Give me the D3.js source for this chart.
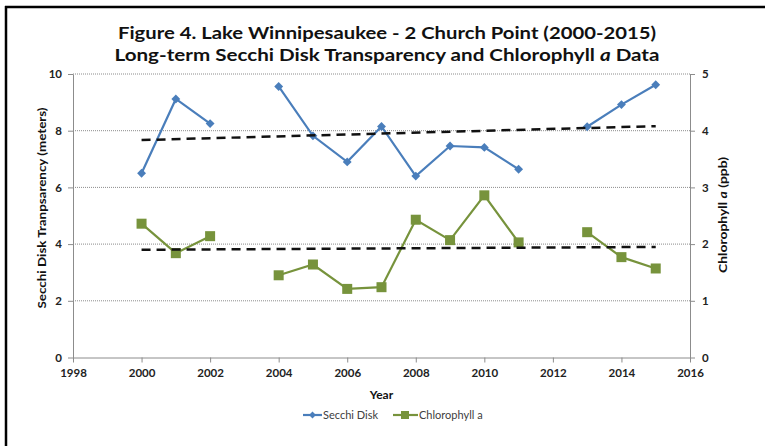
<!DOCTYPE html>
<html><head><meta charset="utf-8">
<script src="https://cdn.jsdelivr.net/npm/d3@7"></script>
<style>
body{margin:0;background:#fff;}
svg{display:block;}
</style></head>
<body>
<svg id="c" width="765" height="446"></svg>
<script>
// ---- data ----
const secchiYears = [2000, 2001, 2002, 2004, 2005, 2006, 2007, 2008, 2009, 2010, 2011, 2013, 2014, 2015];
const secchiValues = [6.5, 9.12, 8.25, 9.56, 7.82, 6.9, 8.15, 6.4, 7.46, 7.41, 6.64, 8.14, 8.92, 9.62];
const chlYears = [2000, 2001, 2002, 2004, 2005, 2006, 2007, 2008, 2009, 2010, 2011, 2013, 2014, 2015];
const chlValues = [2.36, 1.84, 2.14, 1.45, 1.64, 1.21, 1.24, 2.43, 2.07, 2.86, 2.03, 2.21, 1.77, 1.57];
const secchiTrendYears = [2000, 2015];
const secchiTrendValues = [7.67, 8.16];
const chlTrendYears = [2000, 2015];
const chlTrendValues = [1.90, 1.95];
const xTicks = [1998, 2000, 2002, 2004, 2006, 2008, 2010, 2012, 2014, 2016];
const leftTicks = [0, 2, 4, 6, 8, 10];
const rightTicks = [0, 1, 2, 3, 4, 5];
const titleLines = ["Figure 4. Lake Winnipesaukee - 2 Church Point (2000-2015)", "Long-term Secchi Disk Transparency and Chlorophyll "];
const legendLabels = ["Secchi Disk", "Chlorophyll a"];

// ---- layout ----
const svg = d3.select("#c");
const L = 73, R = 690, T = 74, B = 357.5;
const x = d3.scaleLinear().domain([1998, 2016]).range([L, R]);
const yL = d3.scaleLinear().domain([0, 10]).range([B, T]);
const yR = d3.scaleLinear().domain([0, 5]).range([B, T]);
const blue = "#4a7ebb", green = "#77933c";
const font = "Lato, 'Open Sans', sans-serif";

// border
svg.append("line").attr("x1", 6).attr("x2", 6).attr("y1", 6).attr("y2", 446).attr("stroke", "#000").attr("stroke-width", 2.5);
svg.append("line").attr("x1", 5).attr("x2", 765).attr("y1", 7).attr("y2", 7).attr("stroke", "#000").attr("stroke-width", 2.5);

// title
svg.append("text").attr("x", 387).attr("y", 39).attr("text-anchor", "middle")
  .attr("font-family", font).attr("font-weight", 700).attr("font-size", 17.5).attr("fill", "#111")
  .attr("textLength", 538).attr("lengthAdjust", "spacingAndGlyphs").text(titleLines[0]);
const t2 = svg.append("text").attr("x", 387).attr("y", 61).attr("text-anchor", "middle")
  .attr("font-family", font).attr("font-weight", 700).attr("font-size", 17.5).attr("fill", "#111")
  .attr("textLength", 545).attr("lengthAdjust", "spacingAndGlyphs");
t2.append("tspan").text(titleLines[1]);
t2.append("tspan").attr("font-style", "italic").text("a");
t2.append("tspan").text(" Data");

// gridlines
svg.append("g").selectAll("line").data(leftTicks.filter(d => d > 0)).join("line")
  .attr("x1", L).attr("x2", R).attr("y1", d => yL(d)).attr("y2", d => yL(d))
  .attr("stroke", "#8c8c8c").attr("stroke-width", 1).attr("stroke-dasharray", "1,1");

// axes
const axisStyle = g => {
  g.selectAll(".domain").attr("stroke", "#8c8c8c");
  g.selectAll(".tick line").attr("stroke", "#8c8c8c");
  g.selectAll(".tick text").attr("font-family", font).attr("font-weight", 700).attr("font-size", 11.5).attr("fill", "#222");
};
svg.append("g").attr("transform", `translate(0,${B})`)
  .call(d3.axisBottom(x).tickValues(xTicks).tickFormat(d3.format("d")).tickSize(5).tickSizeOuter(0).tickPadding(6))
  .call(axisStyle);
svg.append("g").attr("transform", `translate(${L},0)`)
  .call(d3.axisLeft(yL).tickValues(leftTicks).tickFormat(d3.format("d")).tickSize(5).tickSizeOuter(0).tickPadding(6))
  .call(axisStyle);
svg.append("g").attr("transform", `translate(${R},0)`)
  .call(d3.axisRight(yR).tickValues(rightTicks).tickFormat(d3.format("d")).tickSize(5).tickSizeOuter(0).tickPadding(7))
  .call(axisStyle);

// axis titles
svg.append("text").attr("x", (L + R) / 2).attr("y", 399).attr("text-anchor", "middle")
  .attr("font-family", font).attr("font-weight", 700).attr("font-size", 12).attr("fill", "#111").text("Year");
svg.append("text").attr("transform", "translate(46,208) rotate(-90)").attr("text-anchor", "middle")
  .attr("font-family", font).attr("font-weight", 700).attr("font-size", 11.5).attr("fill", "#111")
  .attr("textLength", 201).attr("lengthAdjust", "spacingAndGlyphs").text("Secchi Disk Tranpsarency (meters)");
const rt = svg.append("text").attr("transform", "translate(727,215) rotate(-90)").attr("text-anchor", "middle")
  .attr("font-family", font).attr("font-weight", 700).attr("font-size", 11.5).attr("fill", "#111")
  .attr("textLength", 116).attr("lengthAdjust", "spacingAndGlyphs");
rt.append("tspan").text("Chlorophyll ");
rt.append("tspan").attr("font-style", "italic").text("a");
rt.append("tspan").text(" (ppb)");

// series helpers: break lines at missing years
function segments(years, vals) {
  const segs = []; let cur = [];
  years.forEach((yr, i) => {
    if (i > 0 && yr - years[i - 1] > 1) { segs.push(cur); cur = []; }
    cur.push([yr, vals[i]]);
  });
  segs.push(cur);
  return segs;
}
const lineL = d3.line().x(d => x(d[0])).y(d => yL(d[1]));
const lineR = d3.line().x(d => x(d[0])).y(d => yR(d[1]));

// secchi
svg.append("g").selectAll("path").data(segments(secchiYears, secchiValues)).join("path")
  .attr("d", lineL).attr("fill", "none").attr("stroke", blue).attr("stroke-width", 2.2);
svg.append("g").selectAll("path").data(secchiYears.map((y, i) => [y, secchiValues[i]])).join("path")
  .attr("d", d3.symbol(d3.symbolDiamond2, 50)())
  .attr("transform", d => `translate(${x(d[0])},${yL(d[1])})`).attr("fill", blue);

// chlorophyll
svg.append("g").selectAll("path").data(segments(chlYears, chlValues)).join("path")
  .attr("d", lineR).attr("fill", "none").attr("stroke", green).attr("stroke-width", 2.2);
svg.append("g").selectAll("rect").data(chlYears.map((y, i) => [y, chlValues[i]])).join("rect")
  .attr("x", d => x(d[0]) - 5).attr("y", d => yR(d[1]) - 5).attr("width", 10).attr("height", 10).attr("fill", green);

// trend lines
svg.append("path").datum(secchiTrendYears.map((y, i) => [y, secchiTrendValues[i]]))
  .attr("d", lineL).attr("stroke", "#111").attr("stroke-width", 2.5).attr("stroke-dasharray", "9,6").attr("fill", "none");
svg.append("path").datum(chlTrendYears.map((y, i) => [y, chlTrendValues[i]]))
  .attr("d", lineR).attr("stroke", "#111").attr("stroke-width", 2.5).attr("stroke-dasharray", "9,6").attr("fill", "none");

// legend
const lg = svg.append("g").attr("transform", "translate(0,415)");
lg.append("line").attr("x1", 303).attr("x2", 322).attr("y1", 0).attr("y2", 0).attr("stroke", blue).attr("stroke-width", 2.2);
lg.append("path").attr("d", d3.symbol(d3.symbolDiamond2, 30)()).attr("transform", "translate(312.5,0)").attr("fill", blue);
lg.append("text").attr("x", 323).attr("y", 4).attr("font-family", font).attr("font-size", 11).attr("fill", "#404040").text(legendLabels[0]);
lg.append("line").attr("x1", 393).attr("x2", 418).attr("y1", 0).attr("y2", 0).attr("stroke", green).attr("stroke-width", 2.2);
lg.append("rect").attr("x", 401).attr("y", -4).attr("width", 8).attr("height", 8).attr("fill", green);
lg.append("text").attr("x", 419).attr("y", 4).attr("font-family", font).attr("font-size", 11).attr("fill", "#404040").text(legendLabels[1]);
</script>
</body></html>
